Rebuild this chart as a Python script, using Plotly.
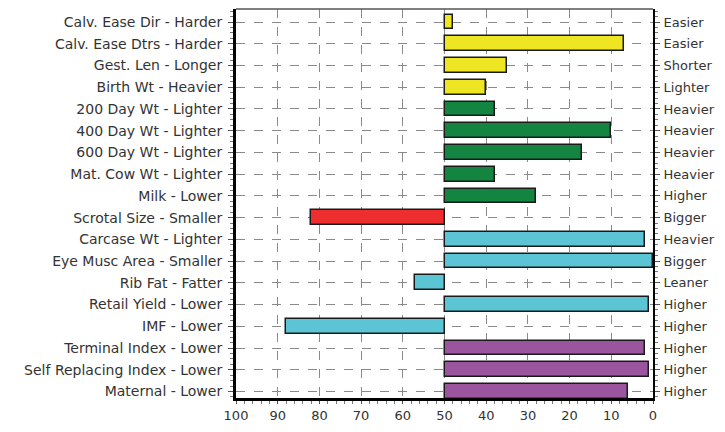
import plotly.graph_objects as go

left_labels = [
    "Calv. Ease Dir - Harder", "Calv. Ease Dtrs - Harder", "Gest. Len - Longer",
    "Birth Wt - Heavier", "200 Day Wt - Lighter", "400 Day Wt - Lighter",
    "600 Day Wt - Lighter", "Mat. Cow Wt - Lighter", "Milk - Lower",
    "Scrotal Size - Smaller", "Carcase Wt - Lighter", "Eye Musc Area - Smaller",
    "Rib Fat - Fatter", "Retail Yield - Lower", "IMF - Lower",
    "Terminal Index - Lower", "Self Replacing Index - Lower", "Maternal - Lower",
]
right_labels = [
    "Easier", "Easier", "Shorter", "Lighter", "Heavier", "Heavier", "Heavier",
    "Heavier", "Higher", "Bigger", "Heavier", "Bigger", "Leaner", "Higher",
    "Higher", "Higher", "Higher", "Higher",
]
values = [48, 7, 35, 40, 38, 10, 17, 38, 28, 82, 2, 0, 57, 1, 88, 2, 1, 6]
groups = ["calving"] * 4 + ["growth"] * 5 + ["fertility"] + ["carcase"] * 5 + ["index"] * 3
group_colors = {
    "calving": "#EEE622",
    "growth": "#138540",
    "fertility": "#EE2E2E",
    "carcase": "#5BC5D5",
    "index": "#9B559E",
}
midpoint = 50
x_ticks = [100, 90, 80, 70, 60, 50, 40, 30, 20, 10, 0]

pos = list(range(len(left_labels)))
fig = go.Figure()
fig.add_trace(go.Bar(
    y=pos,
    x=[v - midpoint for v in values],
    base=midpoint,
    orientation="h",
    width=0.68,
    marker=dict(color=[group_colors[g] for g in groups],
                line=dict(color="#1a1a1a", width=1.5)),
    hoverinfo="skip",
    showlegend=False,
))
# invisible trace for right axis
fig.add_trace(go.Scatter(
    y=pos, x=[midpoint] * len(pos), yaxis="y2", mode="markers",
    marker=dict(opacity=0), showlegend=False, hoverinfo="skip",
))

font = dict(family="DejaVu Sans, Verdana, sans-serif", size=14, color="#333333")
yr = [17.3, -0.6]
grid = dict(showgrid=True, gridcolor="#8a8a8a", griddash="dash", gridwidth=1)

# page body has an 8px default margin, so the figure is sized to fit the 725x432 window
fig.update_layout(
    width=709, height=416,
    margin=dict(l=228, r=64, t=1, b=26),
    paper_bgcolor="white", plot_bgcolor="white",
    font=font,
    bargap=0,
    xaxis=dict(
        range=[100, 0], tickvals=x_ticks, ticktext=[str(t) for t in x_ticks],
        showline=True, linecolor="black", linewidth=3,
        ticks="outside", ticklen=3, tickcolor="#555", tickwidth=1,
        minor=dict(dtick=2, ticks="outside", ticklen=3, tickcolor="#777", showgrid=False),
        zeroline=False, tickfont=dict(size=13, color="#333"),
        automargin=False, ticklabelstandoff=0,
        **grid,
    ),
    yaxis=dict(
        range=yr, tickvals=pos, ticktext=left_labels,
        showline=True, linecolor="black", linewidth=3,
        ticks="outside", ticklen=5, tickcolor="#555",
        minor=dict(dtick=0.25, tick0=0, ticks="outside", ticklen=3, tickcolor="#777", showgrid=False),
        zeroline=False, ticklabelstandoff=3, automargin=False,
        **grid,
    ),
    yaxis2=dict(
        range=yr, overlaying="y", side="right", tickvals=pos, ticktext=right_labels,
        showline=True, linecolor="black", linewidth=2,
        ticks="outside", ticklen=5, tickcolor="#555",
        minor=dict(dtick=0.25, tick0=0, ticks="outside", ticklen=3, tickcolor="#777", showgrid=False),
        showgrid=False, zeroline=False, automargin=False, ticklabelstandoff=1,
        tickfont=dict(size=13),
    ),
    shapes=[dict(type="line", xref="paper", yref="paper", x0=0, x1=1, y0=1, y1=1,
                 line=dict(color="#555", width=1.5))],
)

fig.write_html("out.html")
